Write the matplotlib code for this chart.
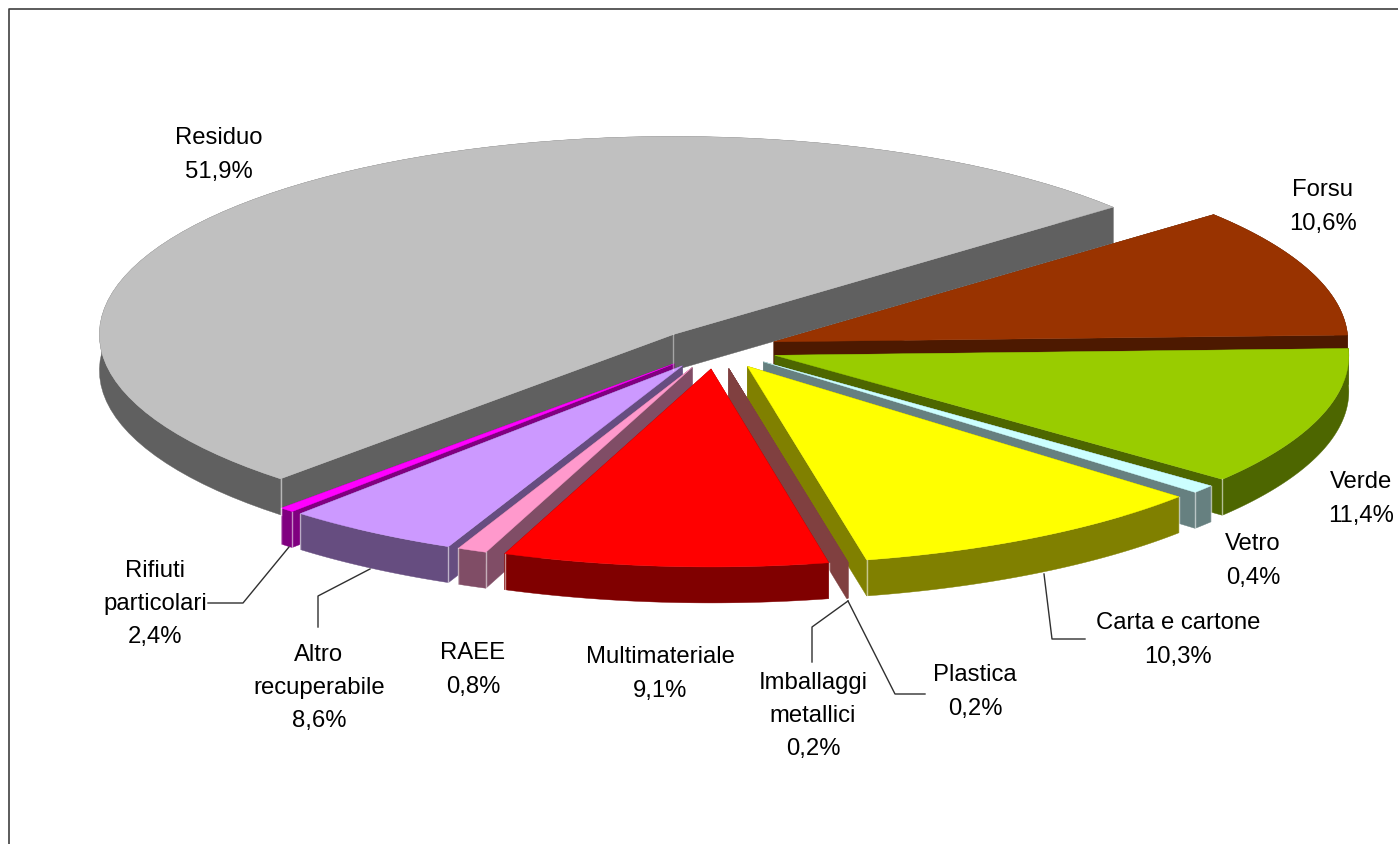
import numpy as np
import matplotlib
matplotlib.use("Agg")
import matplotlib.pyplot as plt
from matplotlib.patches import Polygon

plt.rcParams['font.family'] = ['Liberation Sans', 'DejaVu Sans']

# clockwise from the back right, as the chart has them
CATEGORIES = ["Forsu", "Verde", "Vetro", "Carta e cartone", "Plastica",
              "Imballaggi\nmetallici", "Multimateriale", "RAEE",
              "Altro\nrecuperabile", "Rifiuti\nparticolari", "Residuo"]
VALUES = [10.6, 11.4, 0.4, 10.3, 0.2, 0.2, 9.1, 0.8, 8.6, 2.4, 51.9]
VALUE_LABELS = ["10,6%", "11,4%", "0,4%", "10,3%", "0,2%", "0,2%",
                "9,1%", "0,8%", "8,6%", "2,4%", "51,9%"]

# the two thin slices only ever show their side face
TOP_COLORS = ["#993300", "#99CC00", "#CCFFFF", "#FFFF00", "#804040", "#804040",
              "#FF0000", "#FF99CC", "#CC99FF", "#FF00FF", "#C0C0C0"]
SIDE_COLORS = ["#4D1900", "#4D6600", "#668080", "#808000", "#804040", "#804040",
               "#800000", "#804D66", "#664D80", "#800080", "#606060"]

# back to front, the order the slices overlap in
DRAW_ORDER = [10, 0, 1, 2, 3, 4, 5, 9, 8, 7, 6]

# pie geometry, in picture pixels
CX, CY = 716, 350
RX, RY = 574, 198
EXPLODE_X, EXPLODE_Y = 62, 20
DEPTH = 36
START_ANGLE = 40

# excel's 3d view squeezes the front left a bit: true sweep -> drawn sweep
SWEEP_TRUE = [0, 36, 74.75, 76.11, 111.1, 112.46, 143.4, 146.1, 175.3, 183.6, 360]
SWEEP_DRAWN = [0, 38, 78.7, 81.2, 118, 118.1, 151, 154, 171.7, 173.2, 360]

# label centres
LABEL_POS = [(1323, 207), (1361, 499), (1253, 561), (1178, 640), (975, 692),
             (813, 716), (660, 674), (473, 670), (319, 688), (155, 604), (219, 155)]

# leader lines: slice index -> polyline
LEADERS = {
    3: [(1044, 575), (1052, 640), (1085, 640)],
    4: [(848, 602), (895, 695), (925, 695)],
    5: [(848, 602), (812, 628), (812, 663)],
    8: [(370, 570), (318, 597), (318, 628)],
    9: [(289, 548), (243, 604), (208, 604)],
}


def slice_shape(start, end, mid):
    """Apex and arc points of one exploded slice, angles in degrees."""
    ox = CX + EXPLODE_X * np.cos(np.radians(mid))
    oy = CY - EXPLODE_Y * np.sin(np.radians(mid))
    t = np.radians(np.linspace(start, end, 80))
    return (ox, oy), np.column_stack([ox + RX * np.cos(t), oy - RY * np.sin(t)])


def draw_slice(ax, start, end, top, side):
    mid = (start + end) / 2
    apex, arc = slice_shape(start, end, mid)
    down = np.array([0, DEPTH])
    apex = np.array(apex)

    # side faces: the two cuts and the outer wall
    for a, b in [(apex, arc[0]), (apex, arc[-1])]:
        ax.add_patch(Polygon([a, b, b + down, a + down], fc=side, ec=side, lw=0.3))
    ax.add_patch(Polygon(np.vstack([arc, (arc + down)[::-1]]), fc=side, ec=side, lw=0.3))
    ax.add_patch(Polygon(np.vstack([apex, arc]), fc=top, ec=top, lw=0.3))

    # thin light line on the visible corners of the wall
    if abs(end - start) > 1:
        for p, ang in [(arc[0], start), (arc[-1], end)]:
            if np.sin(np.radians(ang)) < 0:
                ax.plot([p[0], p[0]], [p[1], p[1] + DEPTH], color="white", alpha=0.55, lw=1.0)
    if abs(end - start) > 150:
        ax.plot([apex[0], apex[0]], [apex[1], apex[1] + DEPTH], color="white", alpha=0.4, lw=1.0)


def main():
    fig = plt.figure(figsize=(13.98, 8.45), dpi=100, facecolor="white")
    ax = fig.add_axes([0, 0, 1, 1])
    ax.set_xlim(0, 1398)
    ax.set_ylim(845, 0)
    ax.axis("off")

    # chart frame, the bottom and right sides fall outside the crop
    ax.plot([9, 9, 1400], [850, 10, 10], color="#404040", lw=1.2)

    shares = np.array(VALUES) / sum(VALUES) * 360
    edges = np.concatenate([[0], np.cumsum(shares)])
    drawn = np.interp(edges, SWEEP_TRUE, SWEEP_DRAWN)
    ends = START_ANGLE - drawn

    for i in DRAW_ORDER:
        draw_slice(ax, ends[i + 1], ends[i], TOP_COLORS[i], SIDE_COLORS[i])

    for i, pts in LEADERS.items():
        xs, ys = zip(*pts)
        ax.plot(xs, ys, color="#303030", lw=1.0)

    for name, val, pos in zip(CATEGORIES, VALUE_LABELS, LABEL_POS):
        ax.text(pos[0], pos[1], name + "\n" + val, ha="center", va="center",
                fontsize=17.2, color="black", linespacing=1.66)

    fig.savefig("out.png", dpi=100, facecolor="white")


if __name__ == "__main__":
    main()
